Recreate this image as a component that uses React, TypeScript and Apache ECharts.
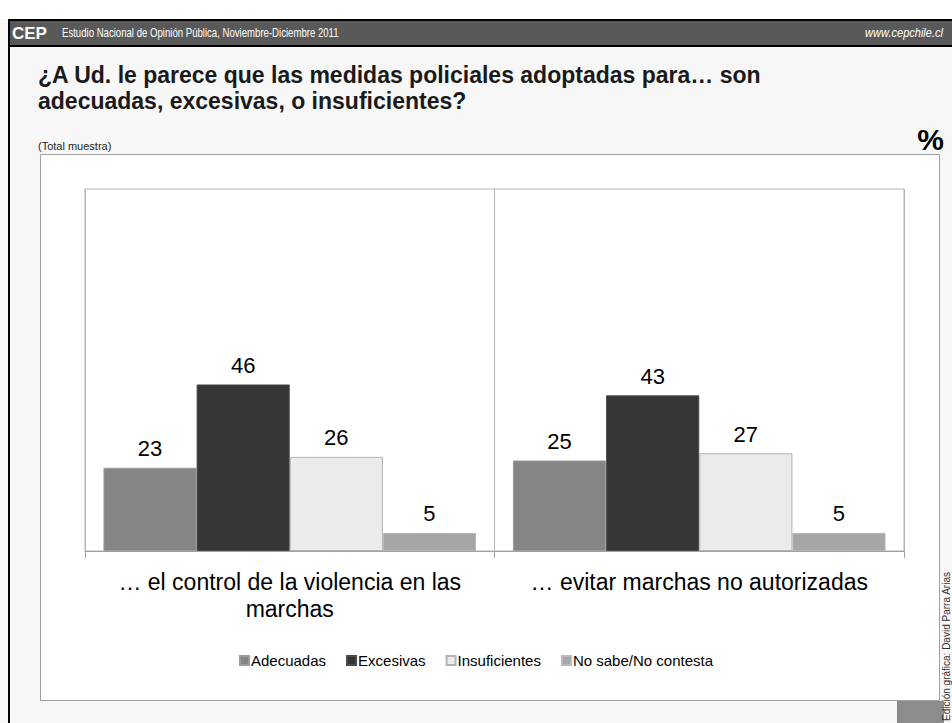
import React, { useEffect, useRef } from 'react';
import * as echarts from 'echarts';

const categories = ['… el control de la violencia en las\nmarchas', '… evitar marchas no autorizadas'];
const seriesNames = ['Adecuadas', 'Excesivas', 'Insuficientes', 'No sabe/No contesta'];
const adecuadas = [23, 25];
const excesivas = [46, 43];
const insuficientes = [26, 27];
const noSabe = [5, 5];
const seriesValues = [adecuadas, excesivas, insuficientes, noSabe];
const barColors = ['#858585', '#363636', '#ebebeb', '#a6a6a6'];
const barBorders = ['#9c9c9c', '#4a4a4a', '#b3b3b3', '#b8b8b8'];

const headerLeft = 'Estudio Nacional de Opinión Pública, Noviembre-Diciembre 2011';
const headerRight = 'www.cepchile.cl';
const titleLines = [
  '¿A Ud. le parece que las medidas policiales adoptadas para… son',
  'adecuadas, excesivas, o insuficientes?',
];
const subtitle = '(Total muestra)';
const credit = 'Edición gráfica: David Parra Arias';

const FONT = "'Liberation Sans', Arial, sans-serif";

export default function App() {
  const ref = useRef<HTMLDivElement>(null);
  useEffect(() => {
    if (!ref.current) return;
    const chart = echarts.init(ref.current, null, { renderer: 'svg' });
    chart.setOption({
      animation: false,
      backgroundColor: '#f7f7f7',
      textStyle: { fontFamily: FONT },
      graphic: [
        { type: 'rect', shape: { x: 0, y: 0, width: 952, height: 19 }, style: { fill: '#ffffff' }, z: -5 },
        { type: 'rect', shape: { x: 8, y: 19, width: 944, height: 28 }, style: { fill: '#000000' }, z: -5 },
        { type: 'rect', shape: { x: 10, y: 21, width: 942, height: 24 }, style: { fill: '#595959' }, z: -4 },
        { type: 'rect', shape: { x: 8, y: 19, width: 2, height: 704 }, style: { fill: '#000000' }, z: -4 },
        { type: 'text', x: 12, y: 33, style: { text: 'CEP', fill: '#ffffff', font: `bold 17px ${FONT}`, textVerticalAlign: 'middle' } },
        { type: 'text', x: 62, y: 33, scaleX: 0.8, style: { text: headerLeft, fill: '#ffffff', font: `12px ${FONT}`, textVerticalAlign: 'middle' } },
        { type: 'text', x: 943, y: 33, scaleX: 0.85, style: { text: headerRight, fill: '#ffffff', font: `italic 13px ${FONT}`, textAlign: 'right', textVerticalAlign: 'middle' } },
        { type: 'text', x: 38, y: 75, style: { text: titleLines[0], fill: '#1a1a1a', font: `bold 23px ${FONT}`, textVerticalAlign: 'middle' } },
        { type: 'text', x: 38, y: 101, style: { text: titleLines[1], fill: '#1a1a1a', font: `bold 23px ${FONT}`, textVerticalAlign: 'middle' } },
        { type: 'text', x: 38, y: 146, style: { text: subtitle, fill: '#262626', font: `11px ${FONT}`, textVerticalAlign: 'middle' } },
        { type: 'text', x: 944, y: 139, style: { text: '%', fill: '#000000', font: `bold 30px ${FONT}`, textAlign: 'right', textVerticalAlign: 'middle' } },
        { type: 'rect', shape: { x: 40.5, y: 154.5, width: 899, height: 546 }, style: { fill: '#ffffff', stroke: '#a0a0a0', lineWidth: 1 }, z: -3 },
        { type: 'rect', shape: { x: 897, y: 701, width: 47, height: 22 }, style: { fill: '#8c8c8c' }, z: -3 },
        { type: 'text', x: 946, y: 721, rotation: Math.PI / 2, style: { text: credit, fill: '#333333', font: `10px ${FONT}`, textAlign: 'left', textVerticalAlign: 'middle' } },
      ],
      legend: {
        data: seriesNames,
        bottom: 50,
        left: 'center',
        icon: 'rect',
        itemWidth: 9,
        itemHeight: 9,
        itemGap: 20,
        textStyle: { fontSize: 15, color: '#000000', fontFamily: FONT, padding: [0, 0, 0, -3] },
      },
      grid: {
        left: 85,
        right: 48,
        top: 189,
        bottom: 172,
        show: true,
        borderColor: '#b5b5b5',
        borderWidth: 1,
        backgroundColor: 'transparent',
      },
      xAxis: {
        type: 'category',
        data: categories,
        axisLine: { show: true, lineStyle: { color: '#a0a0a0', width: 1 } },
        axisTick: { show: true, length: 7, lineStyle: { color: '#a0a0a0' } },
        splitLine: { show: true, lineStyle: { color: '#b5b5b5', width: 1 } },
        axisLabel: { interval: 0, fontSize: 23, color: '#000000', lineHeight: 27, margin: 17, fontFamily: FONT },
      },
      yAxis: {
        type: 'value',
        min: 0,
        max: 100,
        show: false,
        splitLine: { show: false },
      },
      series: seriesNames.map((name, i) => ({
        name,
        type: 'bar',
        data: seriesValues[i],
        barGap: '0%',
        barCategoryGap: '9%',
        itemStyle: { color: barColors[i], borderColor: barBorders[i], borderWidth: 1 },
        label: { show: true, position: 'top', distance: 8, fontSize: 22, color: '#000000', fontFamily: FONT },
      })),
    });
    return () => chart.dispose();
  }, []);
  return <div ref={ref} style={{ position: 'absolute', left: 0, top: 0, width: 952, height: 723 }} />;
}
